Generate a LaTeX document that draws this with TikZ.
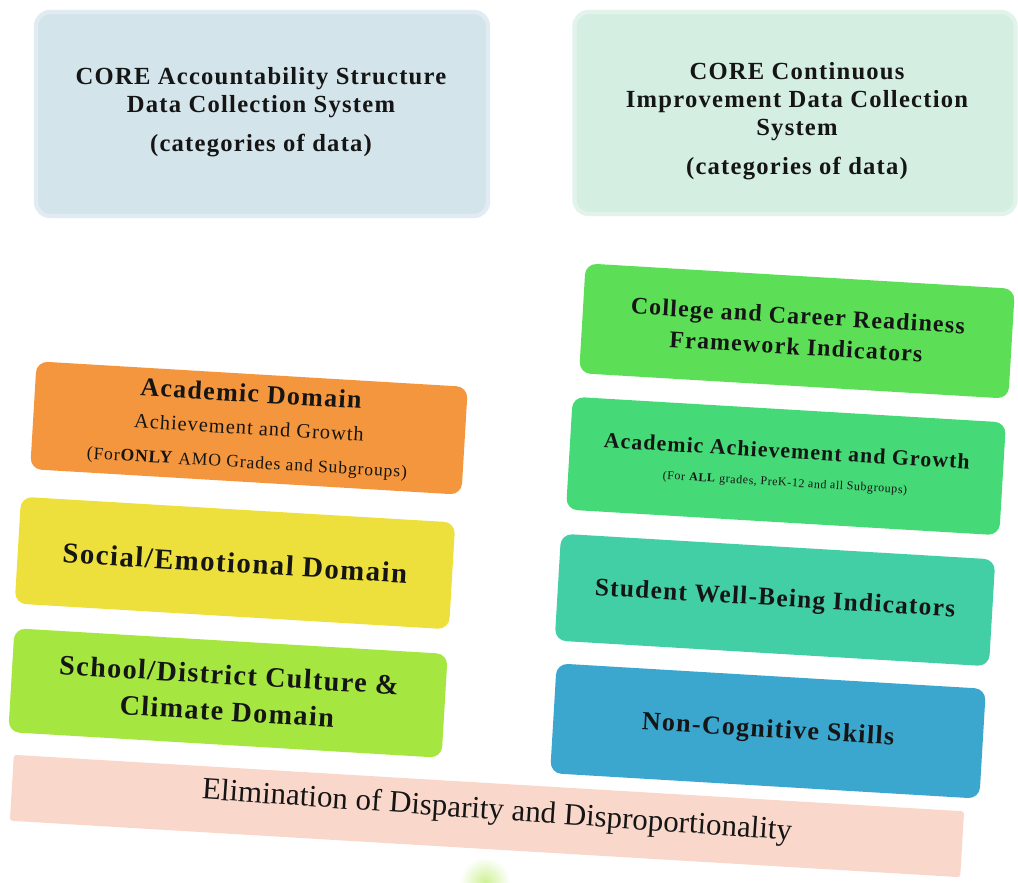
\documentclass[tikz,border=0pt]{standalone}
\usepackage{fontspec}
\setmainfont{Liberation Serif}
\newfontfamily\spf[LetterSpace=5]{Liberation Serif}
\definecolor{topblue}{HTML}{D3E4EB}
\definecolor{topmint}{HTML}{D5EEE2}
\definecolor{orangeC}{HTML}{F4963E}
\definecolor{yellowC}{HTML}{EDE03D}
\definecolor{limeC}{HTML}{A6E640}
\definecolor{collegeC}{HTML}{5CDF56}
\definecolor{acadR}{HTML}{46D977}
\definecolor{studentC}{HTML}{42CFA6}
\definecolor{noncogC}{HTML}{3BA7CE}
\definecolor{pinkC}{HTML}{F9D8CB}
\definecolor{ink}{HTML}{151515}
\newlength\pxu
\setlength\pxu{0.025cm}
\begin{document}
\begin{tikzpicture}[x=0.025cm,y=-0.025cm,
  box/.style={rounded corners=8pt, inner sep=0pt, align=center, text=ink},
  topbox/.style={rounded corners=10pt, inner sep=0pt},
  toptext/.style={align=center, text=ink, font=\spf\bfseries\fontsize{17.5}{20}\selectfont},
  tilt/.style={rotate=-3.4}]
\useasboundingbox (0,0) rectangle (1018,882);
\fill[white] (0,0) rectangle (1018,882);

% top boxes
\node[topbox, fill=topblue, draw=topblue!70!white, line width=3pt, minimum width=452*\pxu, minimum height=204*\pxu] (tl) at (262,114) {};
\node[toptext] (tlt) at (261,112) {CORE Accountability Structure\\Data Collection System\\[8pt](categories of data)};
\node[topbox, fill=topmint, draw=topmint!70!white, line width=3pt, minimum width=441*\pxu, minimum height=202*\pxu] (tr) at (795,113) {};
\node[toptext] (trt) at (797,121) {CORE Continuous\\Improvement Data Collection\\System\\[8pt](categories of data)};

% elimination band (behind)
\node[box, tilt, fill=pinkC, minimum width=952*\pxu, minimum height=66*\pxu, rounded corners=2pt] (elim) at (487,816) {};
\node[text=ink, rotate=-4, font=\fontsize{22}{25}\selectfont] (elimt) at (497,812) {Elimination of Disparity and Disproportionality};
\node[circle, inner color=limeC!55!white, outer color=white, minimum size=50*\pxu, inner sep=0pt] (stem) at (485,882) {};

% left column
\node[box, tilt, fill=orangeC, minimum width=432*\pxu, minimum height=108*\pxu, font=\spf\fontsize{18.5}{25}\selectfont] (acad) at (249,428)
  {\bfseries Academic Domain\\[-2pt]{\fontsize{14.5}{17}\selectfont Achievement and Growth}\\[-1pt]{\fontsize{12.5}{15}\selectfont (For\textbf{ONLY} AMO Grades and Subgroups)}};
\node[box, tilt, fill=yellowC, minimum width=435*\pxu, minimum height=107*\pxu, font=\spf\bfseries\fontsize{20.5}{24}\selectfont] (soc) at (235,563) {Social/Emotional Domain};
\node[box, tilt, fill=limeC, minimum width=434*\pxu, minimum height=104*\pxu, font=\spf\bfseries\fontsize{20}{26}\selectfont] (school) at (228,693) {School/District Culture \&\\Climate Domain};

% right column
\node[box, tilt, fill=collegeC, minimum width=430*\pxu, minimum height=110*\pxu, font=\spf\bfseries\fontsize{17}{22}\selectfont] (college) at (797,331) {College and Career Readiness\\Framework Indicators};
\node[box, tilt, fill=acadR, minimum width=434*\pxu, minimum height=113*\pxu, font=\spf\bfseries\fontsize{15.5}{19}\selectfont] (acadr) at (786,466)
  {Academic Achievement and Growth\\[1pt]{\normalfont\spf\fontsize{8.5}{10}\selectfont (For \textbf{ALL} grades, PreK-12 and all Subgroups)}};
\node[box, tilt, fill=studentC, minimum width=435*\pxu, minimum height=107*\pxu, font=\spf\bfseries\fontsize{18}{21}\selectfont] (student) at (775,600) {Student Well-Being Indicators};
\node[box, tilt, fill=noncogC, minimum width=430*\pxu, minimum height=110*\pxu, font=\spf\bfseries\fontsize{18.5}{21}\selectfont] (noncog) at (768,731) {Non-Cognitive Skills};
\end{tikzpicture}
\end{document}
